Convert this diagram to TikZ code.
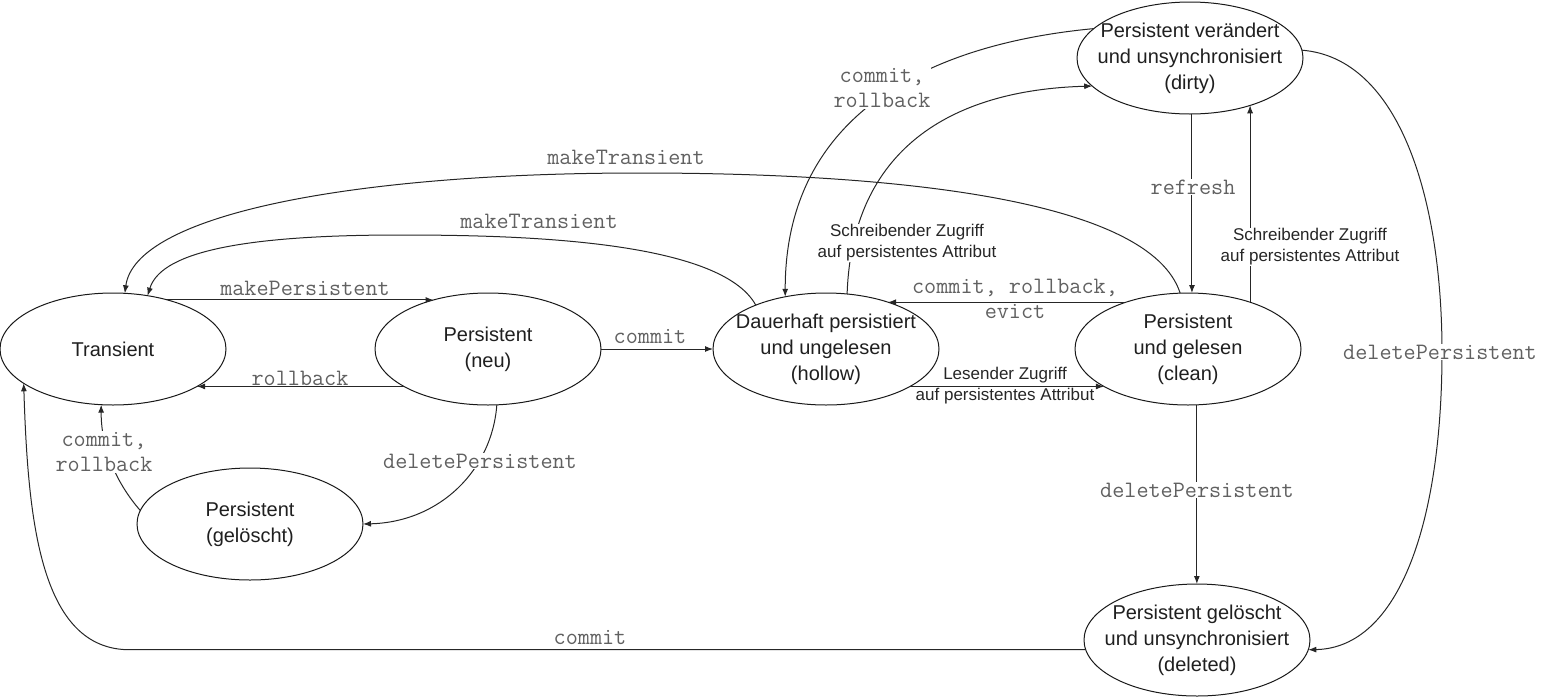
\documentclass[tikz,border=0pt]{standalone}
\usepackage{fontspec}
\setmainfont{Liberation Sans}
\usetikzlibrary{shapes.geometric,arrows.meta}

\begin{document}
\begin{tikzpicture}[x=1pt,y=-1pt,
  state/.style={draw=black!90, line width=1pt, ellipse, minimum width=226pt,
    minimum height=112pt, inner sep=0pt, outer sep=0pt},
  stext/.style={align=center, font=\fontsize{20}{26}\selectfont, text=black!88},
  op/.style={font=\fontsize{23.5}{25}\selectfont\ttfamily, text=black!62,
    align=center, inner sep=1pt},
  opbg/.style={op, fill=white},
  acc/.style={font=\fontsize{17}{21}\selectfont, text=black!85, align=center,
    inner sep=1pt},
  accbg/.style={acc, fill=white},
  tr/.style={draw=black!85, line width=1pt, -{Latex[length=8pt,width=6pt]}},
]
\useasboundingbox (0,0) rectangle (1542,697);

% states
\node[state] (T)     at (113,349)  {};
\node[state] (neu)   at (488,349)  {};
\node[state] (hol)   at (826,349)  {};
\node[state] (clean) at (1188,349) {};
\node[state] (dirty) at (1190,58)  {};
\node[state] (del)   at (1197,640) {};
\node[state] (gel)   at (250,524)  {};
\coordinate (cc) at (130,0);

% transitions
\draw[tr] (T.42) -- (neu.138);
\draw[tr] (neu.204) -- (T.-24);
\draw[tr] (neu.0) -- (hol.180);
\draw[tr] (hol.-24) -- (clean.204);
\draw[tr] (clean.143) -- (hol.37);
\draw[tr] (hol.69) .. controls (852,150) and (950,90) .. (dirty.196);
\draw[tr] (dirty.163) .. controls (920,45) and (785,120) .. (hol.128);
\draw[tr] (dirty.-88) -- (dirty.-88 |- clean.north);
\draw[tr] (clean.37) -- (clean.37 |- dirty.-38);
\draw[tr] (clean.-81) -- (clean.-81 |- del.north);
\draw[tr] (dirty.4) .. controls (1400,58) and (1442,200) .. (1442,352)
  .. controls (1442,520) and (1400,648) .. (del.-5);
\draw[tr] (clean.98) .. controls (1150,200) and (900,173) .. (640,173)
  .. controls (350,173) and (135,215) .. (T.78);
\draw[tr] (hol.148) .. controls (720,240) and (520,235) .. (400,235)
  .. controls (230,235) and (160,255) .. (T.57);
\draw[tr] (gel.173) .. controls (118,485) and (101,450) .. (T.258);
\draw[tr] (neu.-81) .. controls (492,470) and (440,522) .. (gel.0);
\draw[tr] (del.185) -- (del.185 -| cc) .. controls (40,650) and (28,520) .. (T.201);

% transition labels
\node[op] (lmp) at (305,288) {makePersistent};
\node[op] (lrb) at (300,378) {rollback};
\node[op] (lcm) at (650,337) {commit};
\node[acc] (lrd) at (1005,386) {Lesender Zugriff\\auf persistentes Attribut};
\node[op] (lcre) at (1015,299) {commit, rollback,\\evict};
\node[accbg] (lwr1) at (907,243) {Schreibender Zugriff\\auf persistentes Attribut};
\node[accbg] (lwr2) at (1310,247) {Schreibender Zugriff\\auf persistentes Attribut};
\node[opbg] (lrf) at (1193,187) {refresh};
\node[opbg] (ldp1) at (1197,490) {deletePersistent};
\node[opbg] (ldp2) at (1440,352) {deletePersistent};
\node[op] (lmt1) at (626,157) {makeTransient};
\node[op] (lmt2) at (539,221) {makeTransient};
\node[opbg] (lcr1) at (882,88) {commit,\\rollback};
\node[opbg] (lcr2) at (104,452) {commit,\\rollback};
\node[opbg] (ldp3) at (480,461) {deletePersistent};
\node[op] (lcm2) at (590,637) {commit};

% state names
\node[stext] at (T) {Transient};
\node[stext] at (neu) {Persistent\\(neu)};
\node[stext] at (hol) {Dauerhaft persistiert\\und ungelesen\\(hollow)};
\node[stext] at (clean) {Persistent\\und gelesen\\(clean)};
\node[stext] at (dirty) {Persistent verändert\\und unsynchronisiert\\(dirty)};
\node[stext] at (del) {Persistent gelöscht\\und unsynchronisiert\\(deleted)};
\node[stext] at (gel) {Persistent\\(gelöscht)};
\end{tikzpicture}
\end{document}
